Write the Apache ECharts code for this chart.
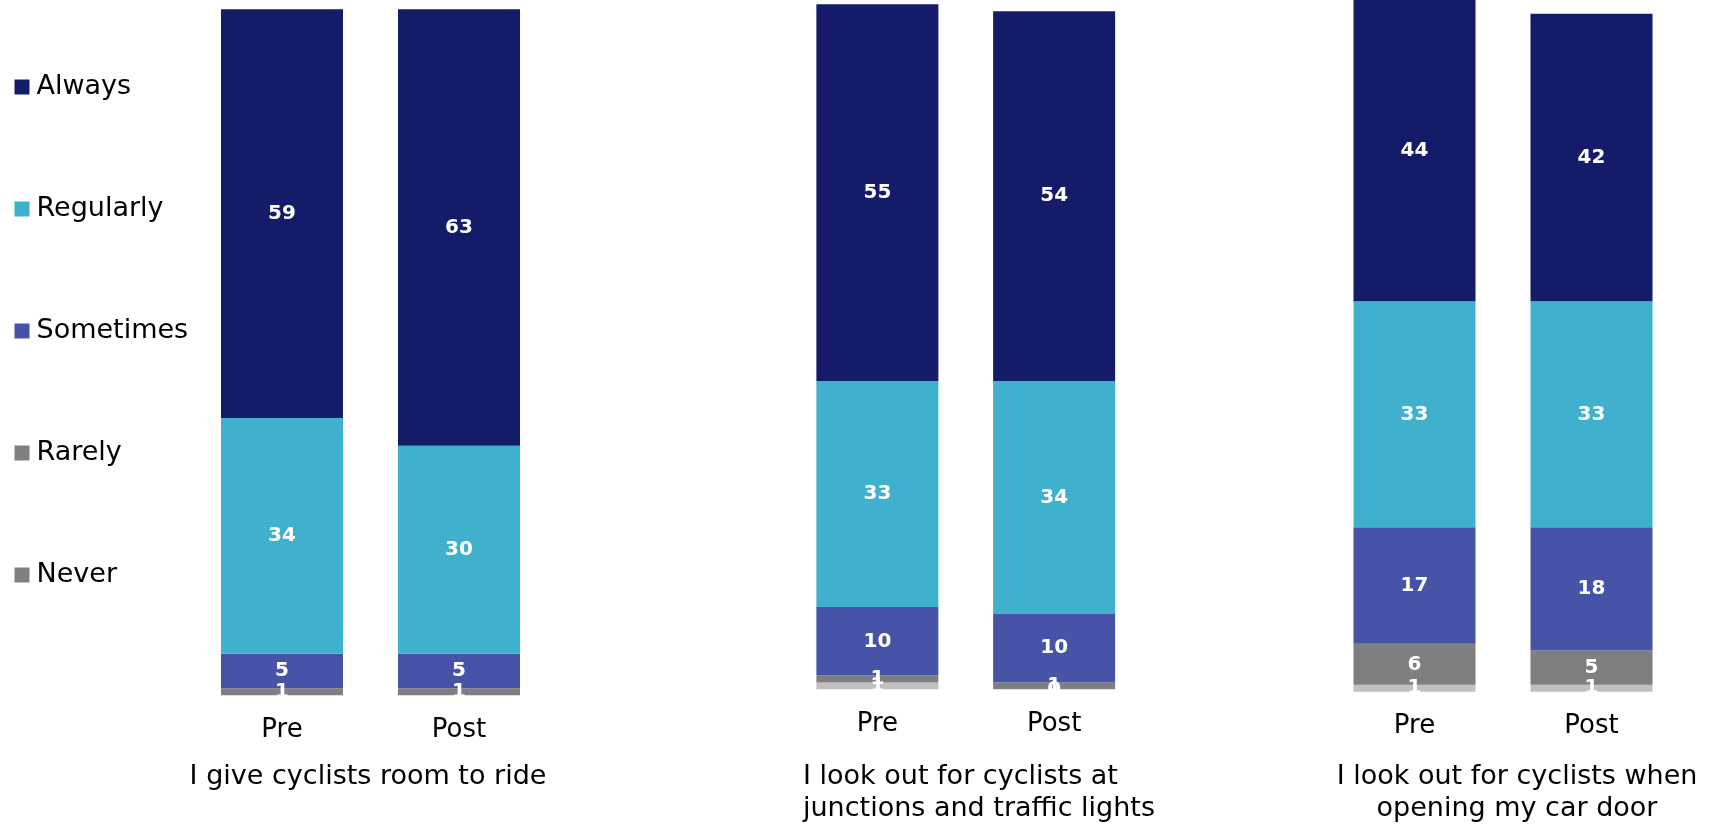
<!DOCTYPE html>
<html>
<head>
<meta charset="utf-8">
<style>
  html, body { margin: 0; padding: 0; background: #ffffff; }
  #chart { width: 1709px; height: 824px; }
</style>
<script src="https://cdn.jsdelivr.net/npm/echarts@6/dist/echarts.min.js"></script>
</head>
<body>
<div id="chart"></div>
<script>
// Survey waves shown in each panel
const waves = ['Pre', 'Post'];

// Statements, one panel each
const statements = [
  'I give cyclists room to ride',
  'I look out for cyclists at\njunctions and traffic lights',
  'I look out for cyclists when\nopening my car door'
];

// Response categories, top of the stack first
const responses = ['Always', 'Regularly', 'Sometimes', 'Rarely', 'Never'];

// Percentages per statement: [Pre, Post]
const always    = [[59, 63], [55, 54], [44, 42]];
const regularly = [[34, 30], [33, 34], [33, 33]];
const sometimes = [[5, 5],   [10, 10], [17, 18]];
const rarely    = [[1, 1],   [1, 1],   [6, 5]];
const never     = [[null, null], [1, 0], [1, 1]];

const valuesByResponse = {
  Always: always,
  Regularly: regularly,
  Sometimes: sometimes,
  Rarely: rarely,
  Never: never
};

const colors = {
  Always: '#141C69',
  Regularly: '#3FB1CD',
  Sometimes: '#4653A6',
  Rarely: '#7F7F7F',
  Never: '#C0C0C0'
};

const FONT = 'DejaVu Sans';

// Panel layout: plot area of each small multiple
const panels = [
  { left: 193.5, width: 354, top: 2.3, height: 693, max: 100, titleX: 368, align: 'center' },
  { left: 789, width: 353.5, top: 4.3, height: 685, max: 100, titleX: 803, align: 'left' },
  { left: 1326, width: 354, top: 0, height: 691.7, max: 101, titleX: 1517, align: 'center' }
];

const grid = [], xAxis = [], yAxis = [], series = [], graphic = [];

panels.forEach((p, i) => {
  grid.push({ left: p.left, top: p.top, width: p.width, height: p.height, containLabel: false });
  xAxis.push({
    type: 'category',
    gridIndex: i,
    data: waves,
    axisLine: { show: false },
    axisTick: { show: false },
    axisLabel: {
      margin: 22,
      fontFamily: FONT,
      fontSize: 26,
      lineHeight: 26,
      color: '#000000'
    }
  });
  yAxis.push({
    type: 'value',
    gridIndex: i,
    min: 0,
    max: p.max,
    show: false,
    splitLine: { show: false }
  });

  // Stack from the bottom up: Never first, Always last
  responses.slice().reverse().forEach(r => {
    series.push({
      name: r,
      type: 'bar',
      stack: 'panel' + i,
      xAxisIndex: i,
      yAxisIndex: i,
      barWidth: 122,
      data: valuesByResponse[r][i],
      itemStyle: { color: colors[r] },
      label: {
        show: true,
        position: 'inside',
        color: '#ffffff',
        fontFamily: FONT,
        fontWeight: 'bold',
        fontSize: 20
      },
      emphasis: { disabled: true },
      animation: false
    });
  });

  graphic.push({
    type: 'text',
    x: p.titleX,
    y: 761,
    style: {
      text: statements[i],
      fill: '#000000',
      fontFamily: FONT,
      fontSize: 27,
      lineHeight: 32,
      align: p.align,
      verticalAlign: 'top'
    }
  });
});

const chart = echarts.init(document.getElementById('chart'), null, { renderer: 'canvas' });
chart.setOption({
  animation: false,
  backgroundColor: '#ffffff',
  legend: {
    orient: 'vertical',
    left: 14.5,
    top: 72,
    padding: 0,
    itemWidth: 15,
    itemHeight: 15,
    itemGap: 92,
    icon: 'rect',
    selectedMode: false,
    textStyle: {
      fontFamily: FONT,
      fontSize: 27,
      lineHeight: 30,
      color: '#000000',
      padding: [0, 0, 0, 2]
    },
    data: responses.map(r => ({
      name: r,
      itemStyle: { color: r === 'Never' ? colors.Rarely : colors[r] }
    }))
  },
  grid,
  xAxis,
  yAxis,
  series,
  graphic
});
</script>
</body>
</html>
